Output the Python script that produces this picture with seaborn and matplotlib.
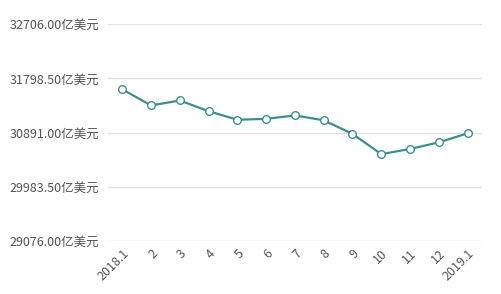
import matplotlib
matplotlib.use("Agg")
import matplotlib.pyplot as plt
import seaborn as sns
import pandas as pd

months = ["2018.1", "2", "3", "4", "5", "6", "7", "8", "9", "10", "11", "12", "2019.1"]
reserves = [31615, 31345, 31428, 31249, 31106, 31121, 31179, 31097, 30870, 30531, 30617, 30727, 30879]
yticks = [29076.00, 29983.50, 30891.00, 31798.50, 32706.00]
ytick_labels = ["29076.00亿美元", "29983.50亿美元", "30891.00亿美元", "31798.50亿美元", "32706.00亿美元"]

sns.set_theme(style="white")
plt.rcParams['font.family'] = ['Noto Sans CJK SC', 'DejaVu Sans']

df = pd.DataFrame({"x": range(len(months)), "y": reserves})

fig = plt.figure(figsize=(5.02, 2.94), dpi=100)
ax = fig.add_axes([0.215, 0.18, 0.745, 0.738])

line_color = "#3d8f8c"
sns.lineplot(data=df, x="x", y="y", ax=ax, color=line_color, linewidth=1.6,
             marker="o", markersize=5.5, markerfacecolor="white",
             markeredgecolor=line_color, markeredgewidth=1.0)

ax.set_xlim(-0.5, 12.5)
ax.set_ylim(yticks[0], yticks[-1])
ax.set_yticks(yticks)
ax.set_yticklabels(ytick_labels)
ax.set_xticks(range(len(months)))
ax.set_xticklabels(months, rotation=45, ha="right", rotation_mode="anchor")
ax.tick_params(axis="both", length=0, labelsize=9, colors="#555555")
ax.tick_params(axis="y", pad=6)
ax.tick_params(axis="x", pad=4)
ax.grid(axis="y", color="#e3e3e3", linewidth=1.0)
ax.set_axisbelow(True)
for s in ax.spines.values():
    s.set_visible(False)
ax.set_xlabel("")
ax.set_ylabel("")

fig.savefig("out.png", dpi=100)
